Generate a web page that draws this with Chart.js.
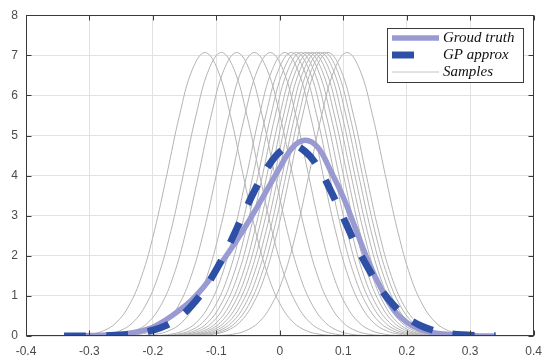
<!DOCTYPE html>
<html>
<head>
<meta charset="utf-8">
<script src="https://cdn.jsdelivr.net/npm/chart.js@4/dist/chart.umd.min.js"></script>
<style>
  html, body { margin: 0; padding: 0; background: #ffffff; }
  #wrap { width: 550px; height: 363px; }
</style>
</head>
<body>
<div id="wrap"><canvas id="c" width="550" height="363"></canvas></div>
<script>
// ---- data ----
const xGrid = [-0.34,-0.32,-0.30,-0.28,-0.26,-0.24,-0.22,-0.20,-0.18,-0.16,-0.14,-0.12,-0.10,-0.08,-0.06,-0.04,-0.02,0.00,
               0.02,0.04,0.06,0.08,0.10,0.12,0.14,0.16,0.18,0.20,0.22,0.24,0.26,0.28,0.30,0.32,0.34];
const truthValues = [0.00,0.00,0.01,0.02,0.03,0.06,0.12,0.22,0.40,0.62,0.88,1.22,1.65,2.10,2.58,3.10,3.65,4.20,
                     4.70,4.88,4.70,4.12,3.46,2.65,1.84,1.17,0.64,0.34,0.17,0.09,0.05,0.02,0.01,0.00,0.00];
const gpValues = [0.000,0.001,0.003,0.007,0.017,0.037,0.075,0.145,0.26,0.45,0.74,1.14,1.66,2.27,2.95,3.62,4.19,4.59,
                  4.75,4.60,4.22,3.63,2.95,2.27,1.67,1.15,0.76,0.47,0.27,0.15,0.08,0.04,0.020,0.009,0.004];
// every sample curve has the same bump shape, shifted to its own centre
const sampleCentres = [-0.118,-0.092,-0.068,-0.040,-0.015,0.008,0.018,0.026,0.033,0.040,0.046,0.052,0.058,0.064,0.070,0.076,0.106];
const bumpOffsets = [-0.24,-0.22,-0.20,-0.18,-0.16,-0.14,-0.12,-0.10,-0.08,-0.06,-0.04,-0.02,0.00,
                     0.02,0.04,0.06,0.08,0.10,0.12,0.14,0.16,0.18,0.20,0.22,0.24];
const bumpValues = [0.001,0.004,0.014,0.045,0.13,0.33,0.75,1.48,2.60,4.03,5.51,6.64,7.07,
                    6.64,5.51,4.03,2.60,1.48,0.75,0.33,0.13,0.045,0.014,0.004,0.001];
const xTicks = [-0.4,-0.3,-0.2,-0.1,0,0.1,0.2,0.3,0.4];
const yTicks = [0,1,2,3,4,5,6,7,8];
const legendLabels = ['Groud truth','GP approx','Samples'];

// ---- styles ----
const truthColor = '#9a9ad2';
const gpColor = '#2d50a6';
const sampleColor = '#b4b4b4';

const datasets = [];
datasets.push({
  label: legendLabels[1],
  data: xGrid.map((x,i)=>({x:x, y:gpValues[i]})),
  borderColor: gpColor, borderWidth: 7, borderDash: [22,20], borderCapStyle: 'butt',
  pointRadius: 0, tension: 0.4, order: 0, fill: false
});
datasets.push({
  label: legendLabels[0],
  data: xGrid.map((x,i)=>({x:x, y:truthValues[i]})),
  borderColor: truthColor, borderWidth: 5.5,
  pointRadius: 0, tension: 0.4, order: 1, fill: false
});
sampleCentres.forEach((c, k) => {
  datasets.push({
    label: k === 0 ? legendLabels[2] : '',
    data: bumpOffsets.map((o,i)=>({x:c+o, y:bumpValues[i]})),
    borderColor: sampleColor, borderWidth: 1,
    pointRadius: 0, tension: 0.4, order: 2, fill: false
  });
});

const boxPlugin = {
  id: 'matlabBox',
  afterDatasetsDraw(chart) {
    const ctx = chart.ctx, a = chart.chartArea;
    const xs = chart.scales.x, ys = chart.scales.y;
    ctx.save();
    ctx.strokeStyle = '#3a3a3a';
    ctx.lineWidth = 1;
    const L = Math.round(a.left)+0.5, R = Math.round(a.right)-0.5, T = Math.round(a.top)+0.5, B = Math.round(a.bottom)-0.5;
    ctx.strokeRect(L, T, R-L, B-T);
    // inward ticks
    ctx.beginPath();
    xTicks.forEach(v => {
      const px = Math.round(xs.getPixelForValue(v))+0.5;
      ctx.moveTo(px, B); ctx.lineTo(px, B-5);
      ctx.moveTo(px, T); ctx.lineTo(px, T+5);
    });
    yTicks.forEach(v => {
      const py = Math.round(ys.getPixelForValue(v))+0.5;
      ctx.moveTo(L, py); ctx.lineTo(L+5, py);
      ctx.moveTo(R, py); ctx.lineTo(R-5, py);
    });
    ctx.stroke();

    // legend box
    const lx = 387, ly = 28, lw = 136, lh = 54;
    ctx.fillStyle = '#ffffff';
    ctx.fillRect(lx, ly, lw, lh);
    ctx.strokeStyle = '#3a3a3a';
    ctx.strokeRect(lx+0.5, ly+0.5, lw, lh);
    const rows = [
      {label: legendLabels[0], color: truthColor, width: 5.5, dash: [], y: 38},
      {label: legendLabels[1], color: gpColor, width: 7, dash: [22,30], y: 55},
      {label: legendLabels[2], color: '#c4c4c4', width: 1, dash: [], y: 72}
    ];
    rows.forEach(r => {
      ctx.beginPath();
      ctx.setLineDash(r.dash);
      ctx.lineCap = 'butt';
      ctx.strokeStyle = r.color;
      ctx.lineWidth = r.width;
      ctx.moveTo(392, r.y); ctx.lineTo(439, r.y);
      ctx.stroke();
      ctx.setLineDash([]);
      ctx.fillStyle = '#111';
      ctx.font = 'italic 15px "Liberation Serif", "DejaVu Serif", serif';
      ctx.textBaseline = 'middle';
      ctx.textAlign = 'left';
      ctx.fillText(r.label, 443, r.y);
    });
    ctx.restore();
  }
};

new Chart(document.getElementById('c'), {
  type: 'line',
  data: { datasets: datasets },
  options: {
    responsive: false,
    animation: false,
    layout: { padding: { left: 0, right: 12, top: 12, bottom: 0 } },
    plugins: { legend: { display: false }, tooltip: { enabled: false } },
    scales: {
      x: {
        type: 'linear', min: -0.4, max: 0.4,
        afterBuildTicks: s => { s.ticks = xTicks.map(v => ({value: v})); },
        afterFit: s => { s.height = 27; },
        grid: { color: '#e2e2e2', drawTicks: false },
        border: { display: false },
        ticks: {
          padding: 8, color: '#4a4a4a', font: { family: '"Liberation Sans", Arial, sans-serif', size: 12 },
          maxRotation: 0, autoSkip: false,
          callback: v => String(parseFloat(Number(v).toFixed(1)))
        }
      },
      y: {
        min: 0, max: 8,
        afterBuildTicks: s => { s.ticks = yTicks.map(v => ({value: v})); },
        afterFit: s => { s.width = 26; },
        grid: { color: '#e2e2e2', drawTicks: false },
        border: { display: false },
        ticks: {
          padding: 8, color: '#4a4a4a', font: { family: '"Liberation Sans", Arial, sans-serif', size: 12 },
          callback: v => String(v)
        }
      }
    }
  },
  plugins: [boxPlugin]
});
</script>
</body>
</html>
